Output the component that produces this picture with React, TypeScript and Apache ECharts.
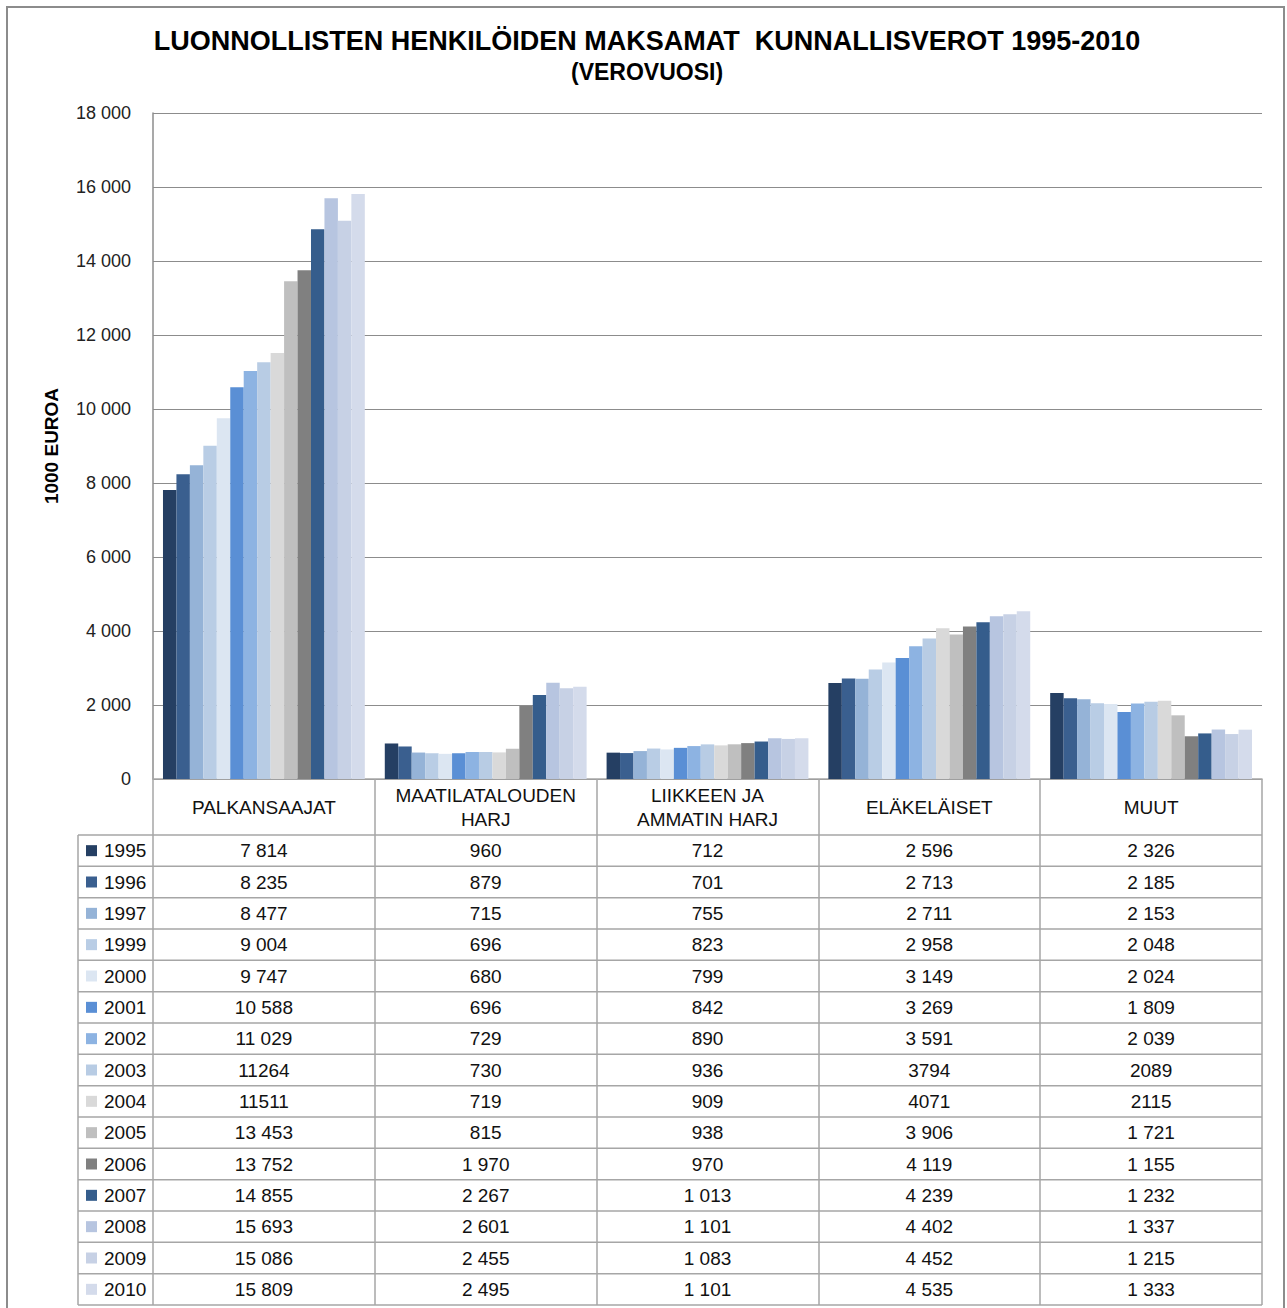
import React, { useEffect, useRef } from "react";
import * as echarts from "echarts";

const titleText = "LUONNOLLISTEN HENKILÖIDEN MAKSAMAT  KUNNALLISVEROT 1995-2010";
const subtitleText = "(VEROVUOSI)";
const yAxisName = "1000 EUROA";

const categories = ["PALKANSAAJAT", "MAATILATALOUDEN\nHARJ", "LIIKKEEN JA\nAMMATIN HARJ", "ELÄKELÄISET", "MUUT"];
const years = ["1995", "1996", "1997", "1999", "2000", "2001", "2002", "2003", "2004", "2005", "2006", "2007", "2008", "2009", "2010"];

const palkansaajat = [7814, 8235, 8477, 9004, 9747, 10588, 11029, 11264, 11511, 13453, 13752, 14855, 15693, 15086, 15809];
const maatilatalouden = [960, 879, 715, 696, 680, 696, 729, 730, 719, 815, 1970, 2267, 2601, 2455, 2495];
const liikkeen = [712, 701, 755, 823, 799, 842, 890, 936, 909, 938, 970, 1013, 1101, 1083, 1101];
const elakelaiset = [2596, 2713, 2711, 2958, 3149, 3269, 3591, 3794, 4071, 3906, 4119, 4239, 4402, 4452, 4535];
const muut = [2326, 2185, 2153, 2048, 2024, 1809, 2039, 2089, 2115, 1721, 1155, 1232, 1337, 1215, 1333];
const columns = [palkansaajat, maatilatalouden, liikkeen, elakelaiset, muut];

// rows shown in the table without a thousands separator
const plainRows = ["2003", "2004"];

const yTicks = { min: 0, max: 18000, interval: 2000 };

const colors = [
  "#253F63", "#3A5F8F", "#95B3D7", "#B9CDE5", "#DCE6F2",
  "#5A8FD5", "#8DB3E2", "#B8CCE4", "#D9D9D9", "#BFBFBF",
  "#808080", "#355D8C", "#B7C5E0", "#C7D1E5", "#D4DBEB",
];

const fmt = (n: number) => String(n).replace(/\B(?=(\d{3})+(?!\d))/g, " ");

// layout
const W = 1287;
const H = 1308;
const gridLeft = 153;
const gridRight = 1262;
const gridTop = 113;
const axisY = 779;
const headerBottom = 835;
const tableBottom = 1305;
const legendLeft = 78;
const FONT = "'Liberation Sans', Arial, sans-serif";
const lineColor = "#A6A6A6";

export default function App() {
  const ref = useRef<HTMLDivElement>(null);

  useEffect(() => {
    if (!ref.current) return;
    const chart = echarts.init(ref.current, undefined, { renderer: "svg" });

    const colW = (gridRight - gridLeft) / categories.length;
    const rowH = (tableBottom - headerBottom) / years.length;

    const graphics: any[] = [];
    graphics.push({
      type: "rect",
      shape: { x: 7, y: 7, width: 1277, height: 1320 },
      style: { fill: "none", stroke: "#8C8C8C", lineWidth: 2 },
      silent: true,
    });
    graphics.push({
      type: "text",
      x: 647,
      y: 41,
      style: { text: titleText, font: `bold 27px ${FONT}`, fill: "#000", align: "center", verticalAlign: "middle" },
    });
    graphics.push({
      type: "text",
      x: 647,
      y: 72,
      style: { text: subtitleText, font: `bold 23px ${FONT}`, fill: "#000", align: "center", verticalAlign: "middle" },
    });
    for (let i = 0; i <= years.length; i++) {
      const y = headerBottom + i * rowH;
      graphics.push({
        type: "line",
        shape: { x1: legendLeft, y1: y, x2: gridRight, y2: y },
        style: { stroke: lineColor, lineWidth: 1.5 },
        silent: true,
      });
    }
    graphics.push({
      type: "line",
      shape: { x1: legendLeft, y1: headerBottom, x2: legendLeft, y2: tableBottom },
      style: { stroke: lineColor, lineWidth: 1.5 },
      silent: true,
    });
    years.forEach((yr, i) => {
      const cy = headerBottom + (i + 0.5) * rowH;
      graphics.push({
        type: "rect",
        shape: { x: 86, y: cy - 5.5, width: 11, height: 11 },
        style: { fill: colors[i] },
        silent: true,
      });
      graphics.push({
        type: "text",
        x: 104,
        y: cy,
        style: { text: yr, font: `19px ${FONT}`, fill: "#111", align: "left", verticalAlign: "middle" },
      });
      columns.forEach((col, j) => {
        const v = col[i];
        graphics.push({
          type: "text",
          x: gridLeft + (j + 0.5) * colW,
          y: cy,
          style: {
            text: plainRows.includes(yr) ? String(v) : fmt(v),
            font: `19px ${FONT}`,
            fill: "#111",
            align: "center",
            verticalAlign: "middle",
          },
        });
      });
    });

    const series = years.map((yr, i) => ({
      name: yr,
      type: "bar",
      data: columns.map((c) => c[i]),
      itemStyle: { color: colors[i] },
      barGap: "0%",
      barCategoryGap: "9%",
      silent: true,
    }));

    chart.setOption({
      animation: false,
      grid: { left: gridLeft, right: W - gridRight, top: gridTop, bottom: H - axisY, containLabel: false },
      xAxis: {
        type: "category",
        data: categories,
        axisLine: { show: true, lineStyle: { color: lineColor, width: 1.5 } },
        axisTick: { show: true, length: tableBottom - axisY, lineStyle: { color: lineColor, width: 1.5 } },
        axisLabel: {
          interval: 0,
          margin: 28,
          verticalAlign: "middle",
          lineHeight: 24,
          fontSize: 19,
          fontFamily: FONT,
          color: "#111",
        },
      },
      yAxis: {
        type: "value",
        min: yTicks.min,
        max: yTicks.max,
        interval: yTicks.interval,
        name: yAxisName,
        nameLocation: "middle",
        nameRotate: 90,
        nameGap: 92,
        nameTextStyle: { fontSize: 19, fontWeight: "bold", fontFamily: FONT, color: "#000" },
        axisLine: { show: true, lineStyle: { color: "#8C8C8C", width: 1.5 } },
        axisTick: { show: false },
        axisLabel: { fontSize: 18, fontFamily: FONT, color: "#222", margin: 22, formatter: (v: number) => fmt(v) },
        splitLine: { show: true, lineStyle: { color: "#8C8C8C", width: 1 } },
      },
      series,
      graphic: graphics,
    });

    return () => chart.dispose();
  }, []);

  return <div ref={ref} style={{ position: "fixed", left: 0, top: 0, width: W, height: H, background: "#fff" }} />;
}
